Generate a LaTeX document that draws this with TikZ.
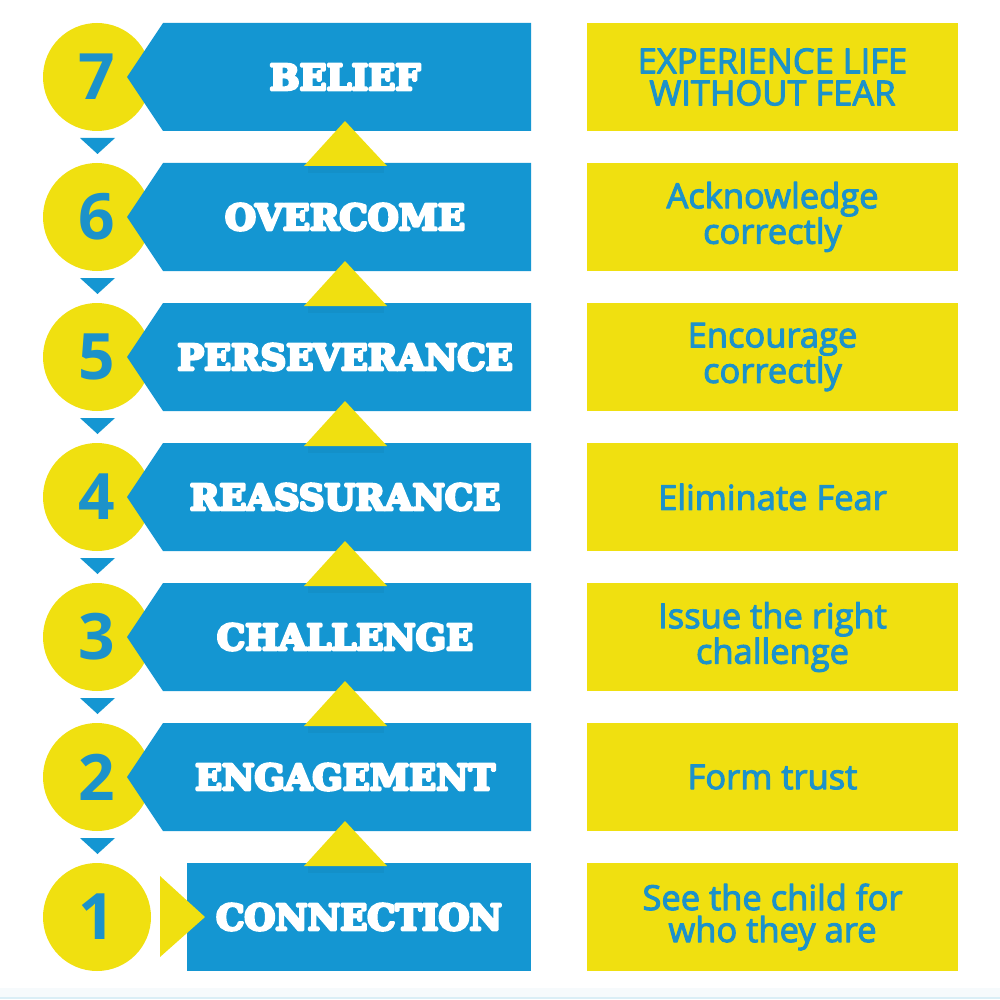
\documentclass[tikz,border=0pt]{standalone}
\usepackage{fontspec}
\setmainfont{Open Sans}
\newfontfamily\slabfont{DejaVu Serif Bold}
\newfontfamily\boxfont{Open Sans}
\usepackage{tikz}
\usetikzlibrary{positioning}
\definecolor{stepblue}{RGB}{20,150,210}
\definecolor{stepyellow}{RGB}{240,224,16}
\definecolor{textblue}{RGB}{28,146,202}
\definecolor{paleline}{RGB}{218,238,246}
\definecolor{palefill}{RGB}{246,250,252}
\newcommand\heavy[2]{\special{pdf:literal direct 2 Tr 1 j #1 w}#2\special{pdf:literal direct 0 Tr 0 j 0.4 w}}

\begin{document}
\begin{tikzpicture}[x=1pt,y=-1pt,
	numcircle/.style={circle, fill=stepyellow, minimum size=108pt, inner sep=0, text=textblue, font=\fontsize{64}{64}\selectfont\bfseries},
	bantext/.style={text=white, inner sep=0, font=\fontsize{35.5}{35.5}\slabfont},
	boxnode/.style={fill=stepyellow, text=textblue, minimum width=371pt, minimum height=108pt, inner sep=0, align=center, font=\fontsize{34.5}{32}\boxfont}]
		\useasboundingbox (0,0) rectangle (1000,1000);
		\fill[white] (0,0) rectangle (1000,1000);
		\fill[palefill] (0,988) rectangle (1000,997);
		\draw[paleline, line width=1.5pt] (0,998) -- (1000,998);
		\foreach \n/\lab/\txt in {7/BELIEF/{EXPERIENCE LIFE\\WITHOUT FEAR},6/OVERCOME/{Acknowledge\\correctly},5/PERSEVERANCE/{Encourage\\correctly},4/REASSURANCE/{Eliminate Fear},3/CHALLENGE/{Issue the right\\challenge},2/ENGAGEMENT/{Form trust},1/CONNECTION/{See the child for\\who they are}} {
			\pgfmathsetmacro\yc{77+140*(7-\n)}
			\node[numcircle] (c\n) at (97,\yc) {\n};
			\ifnum\n>1
				\fill[stepblue] (163,\yc-54) -- (531,\yc-54) -- (531,\yc+54) -- (163,\yc+54) -- (127,\yc) -- cycle;
				\node[bantext] (b\n) at (345,\yc) {\heavy{2.8}{\lab}};
			\else
				\fill[stepblue] (187,\yc-54) rectangle (531,\yc+54);
				\fill[stepyellow] (160,\yc-41) -- (205,\yc) -- (160,\yc+40) -- cycle;
				\node[bantext] (b\n) at (359,\yc) {\heavy{2.8}{\lab}};
			\fi
			\node[boxnode] (t\n) at (772.5,\yc) {\heavy{1}{\txt}};
		};
		\foreach \n in {7,...,2} {
			\pgfmathsetmacro\yc{77+140*(7-\n)}
			\fill[stepblue!80!black, opacity=0.2] (308,\yc+89) rectangle (384,\yc+96);
			\fill[stepyellow] (345,\yc+44) -- (387,\yc+89) -- (304,\yc+89) -- cycle;
			\fill[stepblue] (80,\yc+61) -- (115,\yc+61) -- (97.5,\yc+77) -- cycle;
		};
	\end{tikzpicture}
\end{document}
